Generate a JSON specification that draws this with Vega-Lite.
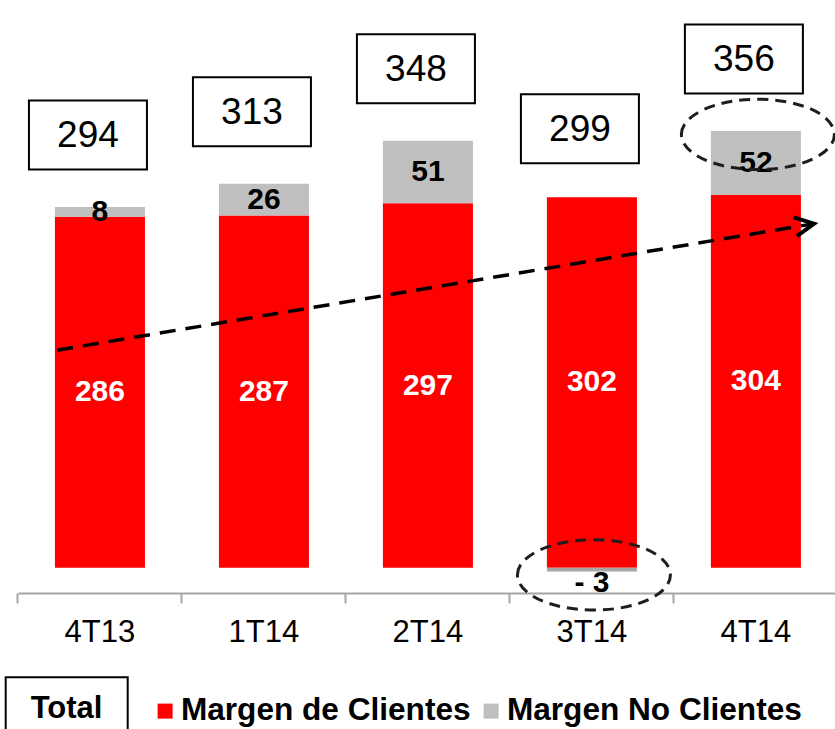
{
  "$schema": "https://vega.github.io/schema/vega-lite/v6.json",
  "width": 817,
  "height": 593,
  "autosize": {"type": "none"},
  "padding": {"left": 18, "top": 0, "right": 0, "bottom": 136},
  "background": "white",
  "config": {
    "view": {"stroke": null},
    "font": "Liberation Sans",
    "legend": {"strokeWidth": 2}
  },
  "resolve": {"scale": {"x": "independent"}, "axis": {"x": "independent"}},
  "layer": [
    {
      "data": {
        "values": [
          {"quarter": "4T13", "series": "Margen de Clientes", "value": 286},
          {"quarter": "4T13", "series": "Margen No Clientes", "value": 8},
          {"quarter": "1T14", "series": "Margen de Clientes", "value": 287},
          {"quarter": "1T14", "series": "Margen No Clientes", "value": 26},
          {"quarter": "2T14", "series": "Margen de Clientes", "value": 297},
          {"quarter": "2T14", "series": "Margen No Clientes", "value": 51},
          {"quarter": "3T14", "series": "Margen de Clientes", "value": 302},
          {"quarter": "3T14", "series": "Margen No Clientes", "value": -3},
          {"quarter": "4T14", "series": "Margen de Clientes", "value": 304},
          {"quarter": "4T14", "series": "Margen No Clientes", "value": 52}
        ]
      },
      "transform": [
        {"stack": "value", "groupby": ["quarter"], "sort": [{"field": "series", "order": "descending"}], "as": ["v0", "v1"]},
        {"calculate": "(datum.v0 + datum.v1) / 2", "as": "mid"},
        {"calculate": "datum.value < 0 ? '- ' + abs(datum.value) : '' + datum.value", "as": "label"}
      ],
      "encoding": {
        "x": {
          "field": "quarter", "type": "nominal", "sort": null,
          "scale": {"paddingInner": 0.451, "paddingOuter": 0.2165, "align": 0.52},
          "axis": {
            "title": null, "grid": false, "labelAngle": 0,
            "bandPosition": -0.411,
            "domainColor": "#A6A6A6", "domainWidth": 2,
            "tickColor": "#A6A6A6", "tickWidth": 2, "tickSize": 10,
            "labelFont": "Liberation Sans", "labelFontSize": 31, "labelColor": "#000000",
            "labelPadding": 14
          }
        }
      },
      "layer": [
        {
          "mark": {"type": "bar"},
          "encoding": {
            "y": {"field": "v1", "type": "quantitative", "scale": {"domain": [-20.6, 462.7], "nice": false, "zero": false}, "axis": null},
            "y2": {"field": "v0"},
            "color": {
              "field": "series", "type": "nominal",
              "condition": {"test": "datum.value < 0", "value": "#A6A6A6"},
              "scale": {"domain": ["Margen de Clientes", "Margen No Clientes"], "range": ["#FF0000", "#BFBFBF"]},
              "legend": {
                "orient": "none", "legendX": 131.3, "legendY": 695,
                "direction": "horizontal", "title": null,
                "symbolType": "square", "symbolSize": 225, "symbolStrokeWidth": 0,
                "labelOffset": 0, "columnPadding": 4, "padding": 0,
                "labelFont": "Liberation Sans", "labelFontSize": 31.6, "labelFontWeight": "bold",
                "labelColor": "#000000", "labelLimit": 500
              }
            }
          }
        },
        {
          "transform": [{"filter": "datum.series == 'Margen de Clientes'"}],
          "mark": {"type": "text", "color": "#FFFFFF", "fontSize": 30, "fontWeight": "bold", "baseline": "middle", "font": "Liberation Sans"},
          "encoding": {
            "y": {"field": "mid", "type": "quantitative", "scale": {"domain": [-20.6, 462.7], "nice": false, "zero": false}, "axis": null},
            "text": {"field": "label"}
          }
        },
        {
          "transform": [{"filter": "datum.series == 'Margen No Clientes' && datum.value > 0"}],
          "mark": {"type": "text", "color": "#000000", "fontSize": 30, "fontWeight": "bold", "baseline": "middle", "font": "Liberation Sans"},
          "encoding": {
            "y": {"field": "mid", "type": "quantitative", "scale": {"domain": [-20.6, 462.7], "nice": false, "zero": false}, "axis": null},
            "text": {"field": "label"}
          }
        },
        {
          "transform": [{"filter": "datum.value < 0"}],
          "mark": {"type": "text", "color": "#000000", "fontSize": 30, "fontWeight": "bold", "baseline": "middle", "dy": 12, "font": "Liberation Sans"},
          "encoding": {
            "y": {"field": "v1", "type": "quantitative", "scale": {"domain": [-20.6, 462.7], "nice": false, "zero": false}, "axis": null},
            "text": {"field": "label"}
          }
        },
        {
          "transform": [{"filter": "datum.series == 'Margen No Clientes' && (datum.quarter == '4T14' || datum.quarter == '3T14')"}],
          "mark": {
            "type": "point", "filled": false,
            "shape": "M-1,0C-1,-0.254 -0.552,-0.46 0,-0.46C0.552,-0.46 1,-0.254 1,0C1,0.254 0.552,0.46 0,0.46C-0.552,0.46 -1,0.254 -1,0Z",
            "size": 23409, "stroke": "#1E1E1E", "strokeWidth": 3, "strokeDash": [11, 7],
            "opacity": 1, "xOffset": 2, "yOffset": 3.5
          },
          "encoding": {
            "y": {"field": "v1", "type": "quantitative", "scale": {"domain": [-20.6, 462.7], "nice": false, "zero": false}, "axis": null}
          }
        },
        {
          "transform": [
            {"aggregate": [{"op": "sum", "field": "value", "as": "total"}], "groupby": ["quarter"]},
            {"calculate": "'Total'", "as": "kind"}
          ],
          "mark": {"type": "point", "filled": true, "fill": "#FFFFFF", "stroke": "#000000", "strokeWidth": 2, "size": 13924, "opacity": 1, "xOffset": -12, "yOffset": -72},
          "encoding": {
            "y": {"field": "total", "type": "quantitative", "scale": {"domain": [-20.6, 462.7], "nice": false, "zero": false}, "axis": null},
            "shape": {
              "field": "kind", "type": "nominal",
              "scale": {"range": ["M-1,-0.585L1,-0.585L1,0.585L-1,0.585Z"]},
              "legend": {
                "orient": "none", "legendX": -12.3, "legendY": 677.3,
                "title": null, "symbolSize": 1, "symbolOpacity": 0, "symbolOffset": 0,
                "symbolStrokeWidth": 0,
                "labelOffset": -31, "padding": 25,
                "strokeColor": "#000000", "fillColor": "#FFFFFF",
                "labelFont": "Liberation Sans", "labelFontSize": 31, "labelFontWeight": "bold",
                "labelColor": "#000000", "labelBaseline": "alphabetic", "labelLimit": 300
              }
            }
          }
        },
        {
          "transform": [
            {"aggregate": [{"op": "sum", "field": "value", "as": "total"}], "groupby": ["quarter"]}
          ],
          "mark": {"type": "text", "fontSize": 37, "color": "#000000", "baseline": "middle", "dx": -12, "dy": -71, "font": "Liberation Sans"},
          "encoding": {
            "y": {"field": "total", "type": "quantitative", "scale": {"domain": [-20.6, 462.7], "nice": false, "zero": false}, "axis": null},
            "text": {"field": "total", "type": "quantitative"}
          }
        }
      ]
    },
    {
      "data": {
        "values": [
          {"pos": 0.24, "trend": 177.3},
          {"pos": 4.872, "trend": 280.4}
        ]
      },
      "encoding": {
        "x": {"field": "pos", "type": "quantitative", "scale": {"domain": [0, 5], "nice": false, "zero": false}, "axis": null},
        "y": {"field": "trend", "type": "quantitative", "scale": {"domain": [-20.6, 462.7], "nice": false, "zero": false}, "axis": null}
      },
      "layer": [
        {
          "mark": {"type": "line", "color": "#000000", "strokeWidth": 3.5, "strokeDash": [16, 10]}
        },
        {
          "transform": [{"filter": "datum.pos > 4"}],
          "mark": {
            "type": "point", "filled": false, "shape": "M-1,-0.5L0,0L-1,0.5",
            "size": 1444, "angle": -9.5, "stroke": "#000000", "strokeWidth": 4, "opacity": 1
          }
        }
      ]
    }
  ]
}
